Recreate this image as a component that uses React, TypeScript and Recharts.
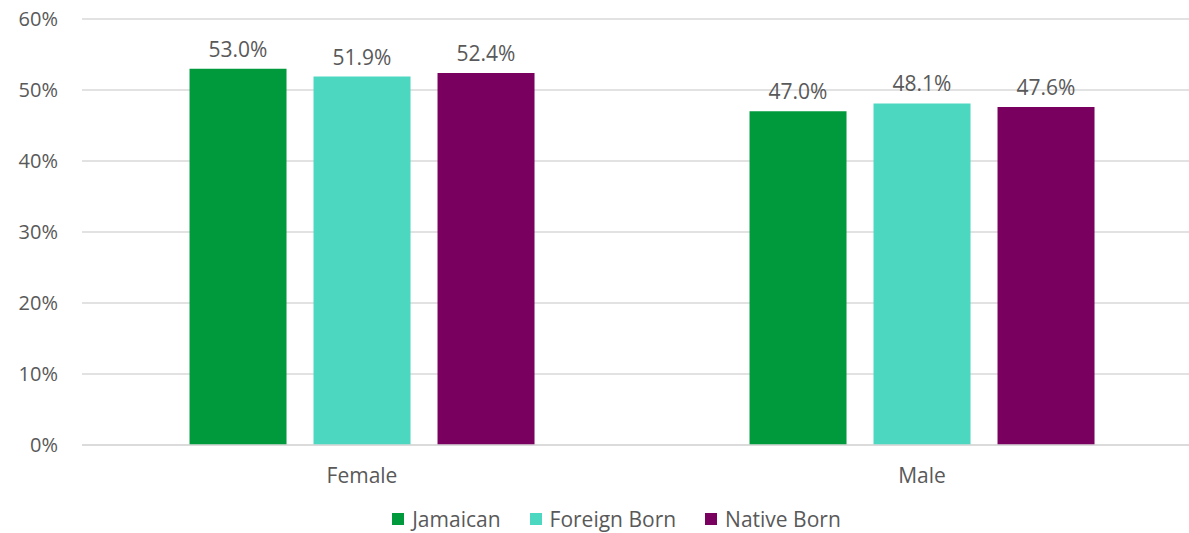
import React from "react";
import { BarChart, Bar, XAxis, YAxis, CartesianGrid, Legend, LabelList } from "recharts";

const categories = ["Female", "Male"];
const jamaican = [53.0, 47.0];
const foreignBorn = [51.9, 48.1];
const nativeBorn = [52.4, 47.6];
const yTicks = [0, 10, 20, 30, 40, 50, 60];
const seriesNames = ["Jamaican", "Foreign Born", "Native Born"];
const seriesColors = ["#009A3D", "#4CD7C0", "#7A0060"];

const data = categories.map((c, i) => ({
  name: c,
  jamaican: jamaican[i],
  foreign: foreignBorn[i],
  native: nativeBorn[i],
}));

const FONT = "'Open Sans', 'Noto Sans', sans-serif";
const TEXT = "#595959";
const FS = 21;
const fmt = (v: any) => `${Number(v).toFixed(1)}%`;

const LegendContent = () => (
  <div style={{ display: "flex", justifyContent: "center", alignItems: "center", height: 28, fontFamily: FONT, fontSize: FS, color: TEXT, paddingLeft: 0 }}>
    {seriesNames.map((n, i) => (
      <div key={n} style={{ display: "flex", alignItems: "center", marginLeft: i === 0 ? 0 : 29 }}>
        <span style={{ display: "inline-block", width: 12, height: 12, background: seriesColors[i], marginRight: 8 }} />
        <span>{n}</span>
      </div>
    ))}
  </div>
);

export default function App() {
  return (
    <div style={{ position: "absolute", left: 0, top: 0, width: 1189, height: 533, overflow: "hidden", background: "#fff", fontFamily: FONT }}>
      <BarChart
        width={1202}
        height={533}
        data={data}
        margin={{ top: 19, right: 0, bottom: 0, left: 0 }}
        barCategoryGap="19.2%"
        barGap={27}
      >
        <CartesianGrid vertical={false} stroke="#d9d9d9" strokeWidth={1.3} />
        <XAxis
          dataKey="name"
          axisLine={{ stroke: "#d9d9d9", strokeWidth: 1.3 }}
          tickLine={false}
          tick={{ fill: TEXT, fontSize: FS, fontFamily: FONT }}
          tickMargin={17}
          height={60}
        />
        <YAxis
          domain={[0, 60]}
          ticks={yTicks}
          tickFormatter={(v) => `${v}%`}
          axisLine={false}
          tickLine={false}
          tick={{ fill: TEXT, fontSize: 20, fontFamily: FONT }}
          tickMargin={18}
          width={82}
        />
        <Legend
          verticalAlign="bottom"
          height={28}
          wrapperStyle={{ left: 22, width: 1189, bottom: 0 }}
          content={<LegendContent />}
        />
        <Bar dataKey="jamaican" name="Jamaican" fill={seriesColors[0]} isAnimationActive={false}>
          <LabelList dataKey="jamaican" position="top" offset={12} formatter={fmt} fill={TEXT} fontSize={FS} fontFamily={FONT} />
        </Bar>
        <Bar dataKey="foreign" name="Foreign Born" fill={seriesColors[1]} isAnimationActive={false}>
          <LabelList dataKey="foreign" position="top" offset={12} formatter={fmt} fill={TEXT} fontSize={FS} fontFamily={FONT} />
        </Bar>
        <Bar dataKey="native" name="Native Born" fill={seriesColors[2]} isAnimationActive={false}>
          <LabelList dataKey="native" position="top" offset={12} formatter={fmt} fill={TEXT} fontSize={FS} fontFamily={FONT} />
        </Bar>
      </BarChart>
    </div>
  );
}
